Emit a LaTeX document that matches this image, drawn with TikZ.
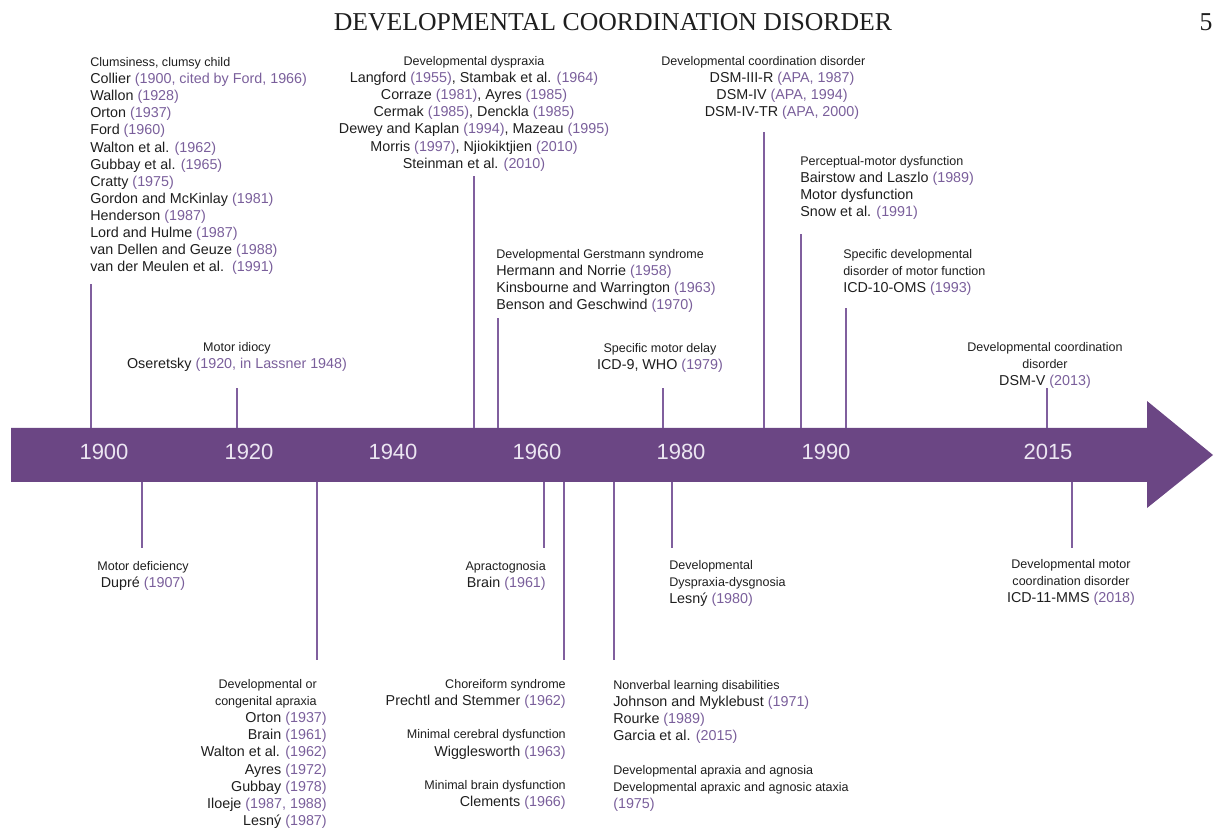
\documentclass[tikz,border=0pt]{standalone}
\usepackage{fontspec}
\setmainfont{Liberation Sans}
\newfontfamily\titrefont{Liberation Serif}
\usepackage{tikz}
\definecolor{violet}{RGB}{107, 70, 132}
\definecolor{trait}{RGB}{128, 95, 158}
\definecolor{cite}{RGB}{122, 95, 155}
\definecolor{texte}{RGB}{30, 30, 30}
\definecolor{annee}{RGB}{236, 230, 242}

\newcommand{\cit}[1]{\textcolor{cite}{(#1)}}
\newcommand{\entete}[1]{{\fontsize{9.4}{12.8}\selectfont #1}}
\newcommand{\saut}{\\[12.2pt]}

\tikzset{
	bloc/.style={inner sep=0pt, text=texte, font=\fontsize{10.75}{12.85}\selectfont},
	tige/.style={draw=trait, line width=1.3pt},
	an/.style={text=annee, font=\fontsize{16.5}{18}\selectfont},
}

\begin{document}
\begin{tikzpicture}[x=0.75pt, y=-0.75pt]
			\useasboundingbox (0,0) rectangle (1214,830);

			\node[font=\titrefont\fontsize{19.3}{21}\selectfont, text=texte] (titre) at (613,22) {DEVELOPMENTAL COORDINATION DISORDER};
			\node[font=\titrefont\fontsize{19.3}{21}\selectfont, text=texte] (page) at (1206,22) {5};

			% fleche
			\fill[violet] (11,428) -- (1147,428) -- (1147,401) -- (1213,455) -- (1147,508) -- (1147,482) -- (11,482) -- cycle;

			% annees
			\foreach \a/\x in {1900/104, 1920/249, 1940/393, 1960/537, 1980/681, 1990/826, 2015/1048} {
				\node[an] (a\a) at (\x,452) {\a};
			}

			% traits
			\foreach \x/\y in {91/284, 237/388, 474/176, 498/318, 663/388, 764/132, 801/234, 846/308, 1047/388} {
				\draw[tige] (\x,428) -- (\x,\y);
			}
			\foreach \x/\y in {142/548, 317/660, 544/548, 564/660, 614/660, 672/548, 1072/548} {
				\draw[tige] (\x,482) -- (\x,\y);
			}

			% textes haut
			\node[bloc, anchor=north west, align=left] (maladresse) at (90,57) {\entete{Clumsiness, clumsy child}\\
				Collier \cit{1900, cited by Ford, 1966}\\ Wallon \cit{1928}\\ Orton \cit{1937}\\ Ford \cit{1960}\\
				Walton et al. \cit{1962}\\ Gubbay et al. \cit{1965}\\ Cratty \cit{1975}\\ Gordon and McKinlay \cit{1981}\\
				Henderson \cit{1987}\\ Lord and Hulme \cit{1987}\\ van Dellen and Geuze \cit{1988}\\ van der Meulen et al.\ \ \cit{1991}};
			\node[bloc, anchor=north, align=center] (idiotie) at (237,342) {\entete{Motor idiocy}\\ Oseretsky \cit{1920, in Lassner 1948}};
			\node[bloc, anchor=north, align=center] (dyspraxie) at (474,56) {\entete{Developmental dyspraxia}\\
				Langford \cit{1955}, Stambak et al. \cit{1964}\\ Corraze \cit{1981}, Ayres \cit{1985}\\ Cermak \cit{1985}, Denckla \cit{1985}\\
				Dewey and Kaplan \cit{1994}, Mazeau \cit{1995}\\ Morris \cit{1997}, Njiokiktjien \cit{2010}\\ Steinman et al. \cit{2010}};
			\node[bloc, anchor=north west] (tcdtitre) at (661,56) {\entete{Developmental coordination disorder}};
			\node[bloc, anchor=north, align=center] (tcd) at (782,72) {DSM-III-R \cit{APA, 1987}\\ DSM-IV \cit{APA, 1994}\\ DSM-IV-TR \cit{APA, 2000}};
			\node[bloc, anchor=north west, align=left] (perceptif) at (800,156) {\entete{Perceptual-motor dysfunction}\\
				Bairstow and Laszlo \cit{1989}\\ Motor dysfunction\\ Snow et al. \cit{1991}};
			\node[bloc, anchor=north west, align=left] (gerstmann) at (496,249) {\entete{Developmental Gerstmann syndrome}\\
				Hermann and Norrie \cit{1958}\\ Kinsbourne and Warrington \cit{1963}\\ Benson and Geschwind \cit{1970}};
			\node[bloc, anchor=north, align=center] (retard) at (660,343) {\entete{Specific motor delay}\\ ICD-9, WHO \cit{1979}};
			\node[bloc, anchor=north west, align=left] (cim10) at (843,249) {\entete{Specific developmental}\\ \entete{disorder of motor function}\\ ICD-10-OMS \cit{1993}};
			\node[bloc, anchor=north, align=center] (dsm5) at (1045,342) {\entete{Developmental coordination}\\ \entete{disorder}\\ DSM-V \cit{2013}};

			% textes bas
			\node[bloc, anchor=north, align=center] (deficience) at (143,561) {\entete{Motor deficiency}\\ Dupré \cit{1907}};
			\node[bloc, anchor=north east, align=right] (apraxie) at (327,679) {\entete{Developmental or}\kern7.5pt\\ \entete{congenital apraxia}\kern7.5pt\\
				Orton \cit{1937}\\ Brain \cit{1961}\\ Walton et al. \cit{1962}\\ Ayres \cit{1972}\\ Gubbay \cit{1978}\\
				Iloeje \cit{1987, 1988}\\ Lesný \cit{1987}};
			\node[bloc, anchor=north east, align=right] (apractognosie) at (546,561) {\entete{Apractognosia}\\ Brain \cit{1961}};
			\node[bloc, anchor=north east, align=right] (choree) at (566,679) {\entete{Choreiform syndrome}\\ Prechtl and Stemmer \cit{1962}\saut
				\entete{Minimal cerebral dysfunction}\\ Wigglesworth \cit{1963}\saut
				\entete{Minimal brain dysfunction}\\ Clements \cit{1966}};
			\node[bloc, anchor=north west, align=left] (dysgnosie) at (669,560) {\entete{Developmental}\\ \entete{Dyspraxia-dysgnosia}\\ Lesný \cit{1980}};
			\node[bloc, anchor=north west, align=left] (nonverbal) at (613,680) {\entete{Nonverbal learning disabilities}\\
				Johnson and Myklebust \cit{1971}\\ Rourke \cit{1989}\\ Garcia et al. \cit{2015}\saut
				\entete{Developmental apraxia and agnosia}\\ \entete{Developmental apraxic and agnosic ataxia}\\ \cit{1975}};
			\node[bloc, anchor=north, align=center] (cim11) at (1071,559) {\entete{Developmental motor}\\ \entete{coordination disorder}\\ ICD-11-MMS \cit{2018}};
		\end{tikzpicture}
\end{document}
